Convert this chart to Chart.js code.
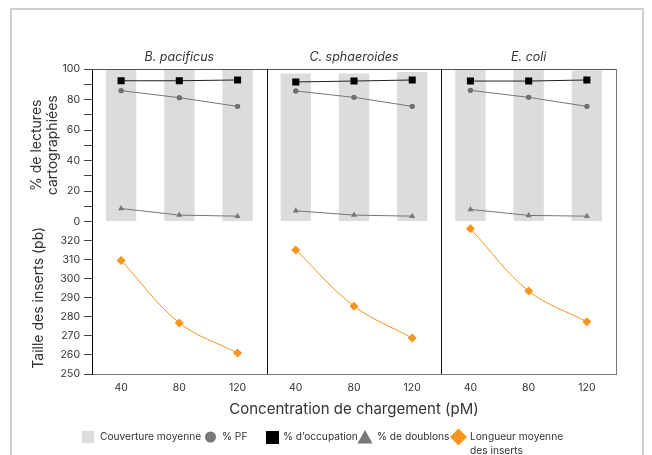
<!DOCTYPE html>
<html>
<head>
<meta charset="utf-8">
<script src="https://cdn.jsdelivr.net/npm/chart.js@4/dist/chart.umd.min.js"></script>
<style>
html,body{margin:0;padding:0;background:#fff}
#wrap{position:relative;width:652px;height:455px;overflow:hidden}
#frame{position:absolute;left:10px;top:8px;width:630px;height:470px;border:2px solid #cfcfcf;border-bottom:none}
#c{position:absolute;left:0;top:0}
</style>
</head>
<body>
<div id="wrap"><div id="frame"></div><canvas id="c" width="652" height="455"></canvas></div>
<script>
const species=['B. pacificus','C. sphaeroides','E. coli'];
const concentrations=['40','80','120'];
// one row per species, one value per concentration
const coverage=[[100,100,100],[97,97,98],[100,100,99]];
const pctPF=[[85.8,81.2,75.5],[85.6,81.4,75.5],[86.0,81.4,75.5]];
const pctOccupancy=[[92.3,92.3,92.8],[91.5,92.1,92.8],[92.1,92.1,92.8]];
const pctDuplicates=[[8.5,4.2,3.5],[7.0,4.2,3.5],[7.9,4.0,3.5]];
const insertSize=[[309.6,276.8,261.0],[315.1,285.6,268.9],[326.2,293.5,277.4]];

const TXT='#333';
const ORANGE='#f7941d';
Chart.defaults.font.family='Inter, "Noto Sans", sans-serif';
Chart.defaults.color=TXT;

const labels=species.flatMap(()=>concentrations);
const n=labels.length;
function panel(rows,p){
  const out=new Array(n).fill(null);
  rows[p].forEach((v,i)=>{out[p*3+i]=v});
  return out;
}

const datasets=[{
  type:'bar',label:'Couverture moyenne',data:coverage.flat(),yAxisID:'yTop',
  backgroundColor:'#dcdcdc',barPercentage:0.52,categoryPercentage:1,order:10
}];
species.forEach((s,p)=>{
  datasets.push({type:'line',label:'% d\u2019occupation',data:panel(pctOccupancy,p),yAxisID:'yTop',
    borderColor:'#222',borderWidth:1,pointStyle:'rect',pointRadius:5,pointBackgroundColor:'#000',pointBorderWidth:0,order:1});
  datasets.push({type:'line',label:'% PF',data:panel(pctPF,p),yAxisID:'yTop',
    borderColor:'#777',borderWidth:1,pointStyle:'circle',pointRadius:2.7,pointBackgroundColor:'#6e6e6e',pointBorderWidth:0,order:2});
  datasets.push({type:'line',label:'% de doublons',data:panel(pctDuplicates,p),yAxisID:'yTop',
    borderColor:'#777',borderWidth:1,pointStyle:'triangle',pointRadius:3.5,pointBackgroundColor:'#777',pointBorderWidth:0,order:3});
  datasets.push({type:'line',label:'Longueur moyenne des inserts',data:panel(insertSize,p),yAxisID:'yBot',
    borderColor:ORANGE,borderWidth:1,tension:0.35,pointStyle:'rectRot',pointRadius:4.5,pointBackgroundColor:ORANGE,pointBorderWidth:0,order:4});
});

const decor={
  id:'decor',
  afterDraw(chart){
    const {ctx,chartArea:a,scales:{x}}=chart;
    ctx.save();
    // frame top / right
    ctx.lineWidth=1;
    ctx.strokeStyle='#555';
    ctx.beginPath();ctx.moveTo(a.left,Math.round(a.top)+0.5);ctx.lineTo(a.right,Math.round(a.top)+0.5);ctx.stroke();
    ctx.strokeStyle='#777';
    ctx.beginPath();ctx.moveTo(Math.round(a.right)+0.5,a.top);ctx.lineTo(Math.round(a.right)+0.5,a.bottom);ctx.stroke();
    // panel separators
    ctx.strokeStyle='#111';
    for(let p=1;p<species.length;p++){
      const sx=Math.round((x.getPixelForValue(p*3-1)+x.getPixelForValue(p*3))/2)+0.5;
      ctx.beginPath();ctx.moveTo(sx,a.top);ctx.lineTo(sx,a.bottom);ctx.stroke();
    }
    // panel titles
    ctx.fillStyle=TXT;
    ctx.font='italic 12.5px Inter, sans-serif';
    ctx.textAlign='center';ctx.textBaseline='middle';
    species.forEach((s,p)=>{
      const cx=(x.getPixelForValue(p*3)+x.getPixelForValue(p*3+2))/2;
      ctx.fillText(s,cx,a.top-12);
    });
    // legend
    ctx.font='10.2px Inter, sans-serif';
    ctx.textAlign='left';
    const ly=437;
    ctx.fillStyle='#dcdcdc';ctx.fillRect(82,431,12,12);
    ctx.fillStyle=TXT;ctx.fillText('Couverture moyenne',100,ly);
    ctx.fillStyle='#777';ctx.beginPath();ctx.arc(210.5,ly,5.5,0,Math.PI*2);ctx.fill();
    ctx.fillStyle=TXT;ctx.fillText('% PF',222,ly);
    ctx.fillStyle='#000';ctx.fillRect(266,431,13,13);
    ctx.fillStyle=TXT;ctx.fillText('% d\u2019occupation',283,ly);
    ctx.fillStyle='#777';ctx.beginPath();ctx.moveTo(365,430);ctx.lineTo(372.5,443.5);ctx.lineTo(357.5,443.5);ctx.closePath();ctx.fill();
    ctx.fillStyle=TXT;ctx.fillText('% de doublons',377,ly);
    ctx.fillStyle=ORANGE;ctx.beginPath();ctx.moveTo(458.5,428.5);ctx.lineTo(467,437);ctx.lineTo(458.5,445.5);ctx.lineTo(450,437);ctx.closePath();ctx.fill();
    ctx.fillStyle=TXT;ctx.fillText('Longueur moyenne',470,ly);
    ctx.fillText('des inserts',470,ly+14);
    ctx.restore();
  }
};

const yCommon={
  type:'linear',position:'left',stack:'left',stackWeight:1,
  grid:{drawOnChartArea:false,tickLength:8,color:'#444'},
  border:{color:'#000'},
  afterFit(s){s.width=80;}
};

new Chart(document.getElementById('c'),{
  type:'bar',
  data:{labels,datasets},
  options:{
    responsive:false,animation:false,
    layout:{padding:{left:12,top:69,right:36,bottom:35}},
    plugins:{legend:{display:false},tooltip:{enabled:false}},
    scales:{
      x:{
        grid:{display:false},
        border:{color:'#777'},
        ticks:{font:{size:10.5},padding:0,maxRotation:0,autoSkip:false},
        title:{display:true,text:'Concentration de chargement (pM)',font:{size:15},padding:{top:3,bottom:2}},
        afterFit(s){s.height=46;}
      },
      yBot:Object.assign({},yCommon,{
        min:250,max:330,
        ticks:{stepSize:10,autoSkip:false,font:{size:10.5},padding:4,callback:v=>{const r=Math.round(v);return r===330?'':String(r);}},
        title:{display:true,text:'Taille des inserts (pb)',font:{size:14},padding:{top:18}}
      }),
      yTop:Object.assign({},yCommon,{
        min:0,max:100,
        ticks:{stepSize:10,autoSkip:false,font:{size:10.5},padding:4,callback:v=>{const r=Math.round(v);return r%20===0?String(r):'';}},
        title:{display:true,text:['% de lectures','cartographiées'],font:{size:14},padding:{top:16}}
      })
    }
  },
  plugins:[decor]
});
</script>
</body>
</html>
